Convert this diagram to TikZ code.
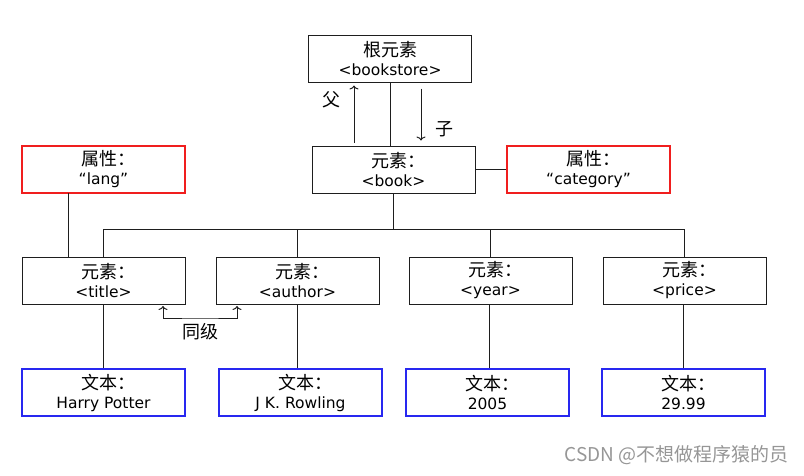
\documentclass[tikz,border=0pt]{standalone}
\usepackage{fontspec}
\setmainfont{DejaVu Sans}
\newfontfamily\cjk{Noto Sans CJK SC}
\newcommand\zh[1]{{\cjk\fontsize{18}{18}\selectfont #1}}
\newcommand\zhc[1]{{\cjk\fontsize{18}{18}\selectfont\hspace*{0.55em}#1}}
\usetikzlibrary{calc,arrows.meta}

\begin{document}
\begin{tikzpicture}[x=1pt,y=-1pt,
	every node/.style={inner sep=0pt, align=center, font=\fontsize{15.5}{19}\selectfont},
	elem/.style={draw={rgb, 255:red, 30; green, 30; blue, 30 }, line width=1pt, minimum width=163pt, minimum height=47pt},
	attr/.style={elem, draw={rgb, 255:red, 240; green, 30; blue, 30 }, line width=1.5pt},
	txt/.style={elem, draw={rgb, 255:red, 40; green, 40; blue, 240 }, line width=1.5pt},
	conn/.style={draw={rgb, 255:red, 30; green, 30; blue, 30 }, line width=1pt},
	tip/.style={arrows={-{To[length=4pt,width=9pt]}}}]
	\useasboundingbox (0,0) rectangle (804,475);
	
	% Element nodes
	\node [elem] (root) at (390,58.5) {\zh{根元素}\\<bookstore>};
	\node [elem] (book) at (393.5,169.5) {\zhc{元素：}\\<book>};
	\node [attr] (lang) at (103.5,169.5) {\zhc{属性：}\\“lang”};
	\node [attr] (cat) at (588.5,169.5) {\zhc{属性：}\\“category”};
	\node [elem] (title) at (103.5,280.5) {\zhc{元素：}\\<title>};
	\node [elem] (author) at (297.5,280.5) {\zhc{元素：}\\<author>};
	\node [elem] (year) at (490.5,280.5) {\zhc{元素：}\\<year>};
	\node [elem] (price) at (684.5,280.5) {\zhc{元素：}\\<price>};
	% Text nodes
	\node [txt] (tHarry) at (103.5,392.5) {\zhc{文本：}\\Harry Potter};
	\node [txt] (tRowling) at (300.5,392.5) {\zhc{文本：}\\J K. Rowling};
	\node [txt] (tYear) at (487.5,392.5) {\zhc{文本：}\\2005};
	\node [txt] (tPrice) at (683.5,392.5) {\zhc{文本：}\\29.99};
	
	% Tree lines
	\coordinate (bus) at (389,229);
	\coordinate (langDrop) at (68,193);
	\coordinate (yearDrop) at (489,304);
	\coordinate (priceDrop) at (683,304);
	\draw [conn] (root.south) -- (root.south |- book.north);
	\draw [conn] (book) -- (cat);
	\draw [conn] (book.south) -- (book.south |- bus);
	\draw [conn] (title.north) -- (title.north |- bus) -| (price.north);
	\draw [conn] (author.north) -- (author.north |- bus);
	\draw [conn] (year.north) -- (year.north |- bus);
	\draw [conn] (langDrop) -- (langDrop |- title.north);
	\draw [conn] (title.south) -- (title.south |- tHarry.north);
	\draw [conn] (author.south) -- (author.south |- tRowling.north);
	\draw [conn] (yearDrop) -- (yearDrop |- tYear.north);
	\draw [conn] (priceDrop) -- (priceDrop |- tPrice.north);
	
	% Parent / child arrows
	\draw [conn,tip] ($(book.north)+(-39.5,-3)$) -- ($(root.south)+(-36,3)$);
	\draw [conn,tip] ($(root.south)+(31,6)$) -- ($(book.north)+(27.5,-5)$);
	\node (fu) at (331,100) {\zh{父}};
	\node (zi) at (444,129) {\zh{子}};
	
	% Siblings
	\coordinate (sibL) at (163,306);
	\coordinate (sibR) at (237,306);
	\draw [conn,arrows={{To[length=4pt,width=9pt]}-{To[length=4pt,width=9pt]}}] (sibL) |- (200,318) -| (sibR);
	\node (sib) at (200,332) {\zh{同级}};
	
	% Watermark
	\node [anchor=east, text={rgb, 255:red, 150; green, 150; blue, 150 }, font=\cjk\fontsize{19}{21}\selectfont] (mark) at (789,455) {CSDN @不想做程序猿的员};
\end{tikzpicture}
\end{document}
